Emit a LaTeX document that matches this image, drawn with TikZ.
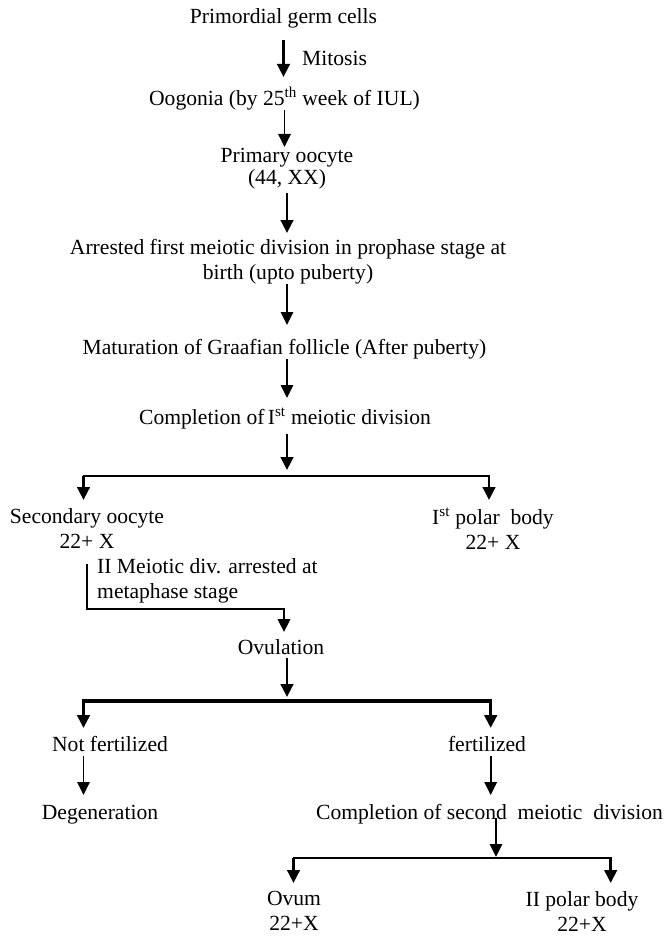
\documentclass[tikz,border=0pt]{standalone}
\usepackage{fontspec}
\setmainfont{Liberation Serif}
\usetikzlibrary{arrows.meta}

\begin{document}
\begin{tikzpicture}[>={Triangle[length=13pt, width=12.5pt]}, x=1pt, y=-1pt]
\tikzset{txt/.style={inner sep=0pt, anchor=north, align=center, font=\fontsize{21.6}{25}\selectfont, execute at begin node={\rule[-4pt]{0pt}{20pt}}}};
\tikzset{boldarr/.style={->, line width=2.8pt}};
\tikzset{lightarr/.style={->, line width=1.6pt}};
\tikzset{bar/.style={line width=1.6pt, line cap=rect}};
\useasboundingbox (0,0) rectangle (665,939);

% stages
\node[txt] (pgc) at (283.5,7) {Primordial germ cells};
\node[txt, anchor=north west] (mit) at (302,49) {Mitosis};
\node[txt] (oog) at (284.5,87) {Oogonia (by 25\textsuperscript{th} week of IUL)};
\node[txt] (prim) at (287,148) {Primary oocyte\\[-3pt](44, XX)};
\node[txt] (arr) at (288,239) {Arrested first meiotic division in prophase stage at\\birth (upto puberty)};
\node[txt] (mat) at (284.5,338) {Maturation of Graafian follicle (After puberty)};
\node[txt] (comp1) at (285,408) {Completion of\kern-2pt\ I\textsuperscript{st} meiotic division};
\node[txt] (sec) at (87,508) {Secondary oocyte\\22+ X};
\node[txt] (pol1) at (493,508) {I\textsuperscript{st} polar\ \ body\\22+ X};
\node[txt, anchor=north west, align=left] (meio) at (97,558) {II Meiotic div. arrested at\\metaphase stage};
\node[txt] (ovu) at (281,638) {Ovulation};
\node[txt] (nfert) at (110,735) {Not fertilized};
\node[txt] (fert) at (487,735) {fertilized};
\node[txt] (deg) at (100,803) {Degeneration};
\node[txt] (comp2) at (489.5,803) {Completion of second\ \ meiotic\ \ division};
\node[txt] (ovum) at (294,891) {Ovum\\22+X};
\node[txt] (pol2) at (582,891) {II polar body\\22+X};

% split points
\coordinate (s1) at (287,476);
\coordinate (s1l) at (83.5,476);
\coordinate (s1r) at (489,476);
\coordinate (knee) at (284,609);
\coordinate (s2) at (287,701);
\coordinate (s2l) at (83.5,701);
\coordinate (s2r) at (490.7,701);
\coordinate (s3) at (496,858);
\coordinate (s3l) at (293.5,858);
\coordinate (s3r) at (610.7,858);

% main line
\draw[boldarr, shorten <=12pt, shorten >=10pt] (pgc.south) -- (pgc.south |- oog.north);
\draw[lightarr, shorten >=1pt] (oog.south) -- (oog.south |- prim.north);
\draw[boldarr, shorten <=4pt, shorten >=6pt] (prim.south) -- (prim.south |- arr.north);
\draw[lightarr, shorten >=13pt] (s1 |- arr.south) -- (s1 |- mat.north);
\draw[lightarr, shorten >=10pt] (s1 |- mat.south) -- (s1 |- comp1.north);
\draw[boldarr, shorten <=5pt, shorten >=6pt] (s1 |- comp1.south) -- (s1);

% first meiosis
\draw[bar] (s1l) -- (s1r);
\draw[boldarr, shorten >=8pt] (s1l) -- (s1l |- sec.north);
\draw[boldarr, shorten >=8pt] (s1r) -- (s1r |- pol1.north);
\draw[boldarr, line width=2.4pt, shorten <=12pt, shorten >=6pt] (sec.south) |- (knee) -- (knee |- ovu.north);

% ovulation
\draw[boldarr, shorten >=4pt] (s2 |- ovu.south) -- (s2);
\draw[boldarr, line width=3.2pt, shorten >=7pt] (s2) -| (s2l |- nfert.north);
\draw[boldarr, line width=3.2pt, shorten >=7pt] (s2) -| (s2r |- fert.north);
\draw[lightarr, shorten <=1pt, shorten >=8pt] (s2l |- nfert.south) -- (s2l |- deg.north);
\draw[lightarr, line width=2pt, shorten <=1pt, shorten >=8pt] (s2r |- fert.south) -- (s2r |- comp2.north);

% second meiosis
\draw[lightarr, shorten <=-6pt, shorten >=1pt] (s3 |- comp2.south) -- (s3);
\draw[bar] (s3l) -- (s3r);
\draw[boldarr, shorten >=8pt] (s3l) -- (s3l |- ovum.north);
\draw[boldarr, shorten >=8pt] (s3r) -- (s3r |- pol2.north);
\end{tikzpicture}
\end{document}
